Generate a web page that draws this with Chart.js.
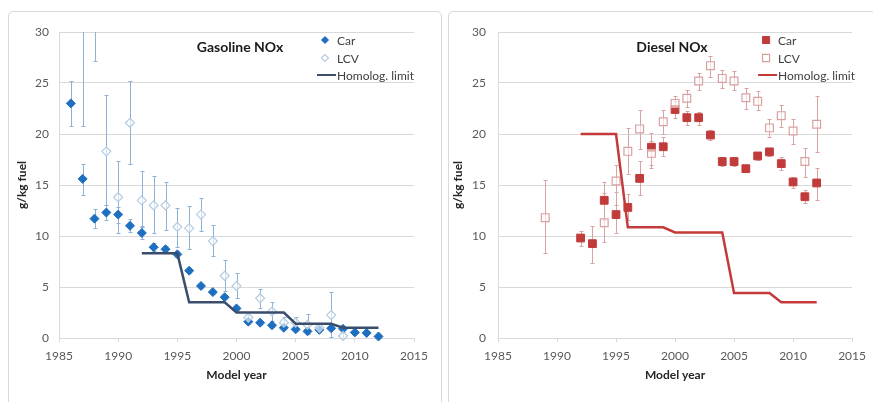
<!DOCTYPE html>
<html><head><meta charset="utf-8">
<script src="https://cdn.jsdelivr.net/npm/chart.js@4.4.1/dist/chart.umd.min.js"></script>
<style>
html,body{margin:0;padding:0;background:#fff;width:873px;height:402px;overflow:hidden;position:relative;}
.panel{position:absolute;border:1px solid #d9d9d9;border-radius:5px;box-sizing:border-box;}
#p1{left:8px;top:11px;width:434px;height:430px;}
#p2{left:448px;top:11px;width:460px;height:430px;}
canvas{position:absolute;top:0;}
#c1{left:0;}
#c2{left:440px;}
</style></head><body>
<div class="panel" id="p1"></div>
<div class="panel" id="p2"></div>
<canvas id="c1" width="440" height="402"></canvas>
<canvas id="c2" width="433" height="402"></canvas>
<script>
// ---------- Data ----------
const gasCarYears = [1986,1987,1988,1989,1990,1991,1992,1993,1994,1995,1996,1997,1998,1999,2000,2001,2002,2003,2004,2005,2006,2007,2008,2009,2010,2011,2012];
const gasCar      = [23.0,15.6,11.7,12.3,12.1,11.0,10.3,8.9,8.7,8.2,6.6,5.1,4.5,4.0,2.9,1.6,1.5,1.25,1.0,0.85,0.65,0.8,0.95,0.9,0.55,0.5,0.15];
const gasCarLow   = [20.8,14.0,10.8,11.6,11.3,10.4,9.7,8.5,8.3,7.9,6.4,4.9,4.3,3.8,2.7,1.4,1.3,1.1,0.85,0.7,0.5,0.65,0.8,0.75,0.4,0.4,0.05];
const gasCarHigh  = [25.2,17.1,12.6,13.0,12.8,11.7,11.0,9.3,9.0,8.5,6.9,5.3,4.7,4.2,3.1,1.9,1.7,1.4,1.2,1.0,0.8,0.95,1.1,1.05,0.7,0.65,0.25];

const gasLcvYears = [1987,1988,1989,1990,1991,1992,1993,1994,1995,1996,1997,1998,1999,2000,2001,2002,2003,2004,2005,2006,2007,2008,2009];
const gasLcv      = [32.0,36.0,18.3,13.8,21.1,13.5,13.0,13.0,10.9,10.75,12.1,9.5,6.1,5.1,2.0,3.9,2.6,1.5,1.5,1.3,1.0,2.25,0.2];
const gasLcvLow   = [20.8,27.2,13.0,10.3,17.1,10.9,10.3,10.6,8.9,8.7,10.5,8.0,4.6,3.9,1.6,2.9,1.7,0.9,0.9,0.4,0.6,0.1,0.0];
const gasLcvHigh  = [43.0,45.0,23.8,17.4,25.2,16.4,15.9,15.3,12.7,12.9,13.7,11.1,7.6,6.35,2.4,4.8,3.5,2.1,2.1,2.35,1.4,4.55,0.6];

const gasLimitYears = [1992,1993,1994,1995,1996,1997,1998,1999,2000,2001,2002,2003,2004,2005,2006,2007,2008,2009,2010,2011,2012];
const gasLimit      = [8.3,8.3,8.3,8.3,3.5,3.5,3.5,3.5,2.5,2.5,2.5,2.5,2.5,1.4,1.4,1.4,1.4,1.0,1.0,1.0,1.0];

const dieCarYears = [1992,1993,1994,1995,1996,1997,1998,1999,2000,2001,2002,2003,2004,2005,2006,2007,2008,2009,2010,2011,2012];
const dieCar      = [9.8,9.25,13.5,12.1,12.8,15.65,18.7,18.75,22.4,21.6,21.6,19.9,17.3,17.3,16.6,17.85,18.25,17.1,15.3,13.85,15.2];
const dieCarLow   = [9.0,7.4,11.6,10.3,11.6,14.0,17.0,17.8,21.6,20.9,20.9,19.4,16.9,16.9,16.3,17.5,17.8,16.5,14.7,13.2,13.55];
const dieCarHigh  = [10.45,11.0,15.3,14.3,14.1,17.35,20.1,19.7,23.2,22.3,22.2,20.4,17.7,17.7,16.9,18.2,18.6,17.7,15.8,14.5,16.7];

const dieLcvYears = [1989,1994,1995,1996,1997,1998,1999,2000,2001,2002,2003,2004,2005,2006,2007,2008,2009,2010,2011,2012];
const dieLcv      = [11.8,11.3,15.4,18.3,20.5,18.1,21.2,23.0,23.5,25.2,26.7,25.45,25.2,23.55,23.2,20.6,21.8,20.3,17.3,20.95];
const dieLcvLow   = [8.3,9.4,13.0,16.1,18.5,16.7,20.0,22.2,22.6,24.3,25.6,24.5,24.3,22.45,22.35,19.7,20.7,19.0,15.8,18.2];
const dieLcvHigh  = [15.5,14.2,17.0,20.6,22.35,19.3,22.35,23.7,24.3,26.0,27.6,26.3,26.2,24.55,24.2,21.5,22.85,21.5,18.65,23.75];

const dieLimitYears = [1992,1993,1994,1995,1996,1997,1998,1999,2000,2001,2002,2003,2004,2005,2006,2007,2008,2009,2010,2011,2012];
const dieLimit      = [20,20,20,20,10.85,10.85,10.85,10.85,10.35,10.35,10.35,10.35,10.35,4.4,4.4,4.4,4.4,3.5,3.5,3.5,3.5];

const xMin = 1985, xMax = 2015, xStep = 5;
const yMin = 0, yMax = 30, yStep = 5;
const seriesNames = ['Car', 'LCV', 'Homolog. limit'];
const chartTitles = ['Gasoline NOx', 'Diesel NOx'];
const xTitle = 'Model year';
const yTitle = 'g/kg fuel';

// ---------- helpers ----------
const FONT = 'Lato, "Liberation Sans", sans-serif';
const pts = (xs, ys) => xs.map((x, i) => ({x, y: ys[i]}));

const errorBars = {
  id: 'errorBars',
  beforeDatasetsDraw(chart) {
    const {ctx, chartArea: a, scales: {x, y}} = chart;
    ctx.save();
    ctx.beginPath();
    ctx.rect(a.left - 5, a.top, a.right - a.left + 10, a.bottom - a.top + 6);
    ctx.clip();
    chart.data.datasets.forEach(ds => {
      if (!ds.errLow) return;
      ctx.strokeStyle = ds.errColor;
      ctx.lineWidth = 1;
      ds.data.forEach((p, i) => {
        const px = Math.round(x.getPixelForValue(p.x)) + 0.5;
        const y1 = Math.round(y.getPixelForValue(ds.errLow[i])) + 0.5;
        const y2 = Math.round(y.getPixelForValue(ds.errHigh[i])) + 0.5;
        ctx.beginPath();
        ctx.moveTo(px, y1); ctx.lineTo(px, y2);
        ctx.moveTo(px - 2, y1); ctx.lineTo(px + 2, y1);
        ctx.moveTo(px - 2, y2); ctx.lineTo(px + 2, y2);
        ctx.stroke();
      });
    });
    ctx.restore();
  }
};

const annot = {
  id: 'annot',
  afterDraw(chart, args, o) {
    const {ctx, chartArea: a} = chart;
    const ds = chart.data.datasets;
    ctx.save();
    // title
    ctx.fillStyle = '#1a1a1a';
    ctx.font = 'bold 14px ' + FONT;
    ctx.textAlign = 'center';
    ctx.textBaseline = 'middle';
    ctx.fillText(o.title, a.left + o.titleDX, a.top + 15);
    // legend
    ctx.font = '12px ' + FONT;
    ctx.textAlign = 'left';
    const mx = a.right - o.legDX, tx = mx + 12;
    const rows = [a.top + 8, a.top + 26, a.top + 43];
    ds.forEach((d, i) => {
      const yy = rows[i];
      if (d.showLine) {
        ctx.strokeStyle = d.borderColor; ctx.lineWidth = 2;
        ctx.beginPath(); ctx.moveTo(mx - 8, yy); ctx.lineTo(tx - 1, yy); ctx.stroke();
      } else {
        ctx.fillStyle = d.legendFill;
        ctx.strokeStyle = d.pointBorderColor;
        ctx.lineWidth = d.pointBorderWidth;
        Chart.helpers.drawPoint(ctx, {pointStyle: d.pointStyle, radius: d.legendRadius,
          borderWidth: d.pointBorderWidth, rotation: 0}, mx, yy);
      }
      ctx.fillStyle = '#404040';
      ctx.fillText(d.label, tx, yy + 1);
    });
    ctx.restore();
  }
};

function makeChart(id, cfg) {
  const W = document.getElementById(id).width;
  return new Chart(document.getElementById(id), {
    type: 'scatter',
    data: {
      datasets: [
        {label: seriesNames[0], data: pts(cfg.carYears, cfg.car), errLow: cfg.carLow, errHigh: cfg.carHigh,
         errColor: cfg.errColor, pointStyle: cfg.style, pointRadius: cfg.carR, legendRadius: cfg.legCarR,
         pointBackgroundColor: cfg.carColor, pointBorderColor: cfg.carColor, pointBorderWidth: 1, legendFill: cfg.carColor,
         backgroundColor: cfg.carColor, borderColor: cfg.carColor, order: 3, clip: {left: 10, top: 0, right: 10, bottom: 10}},
        {label: seriesNames[1], data: pts(cfg.lcvYears, cfg.lcv), errLow: cfg.lcvLow, errHigh: cfg.lcvHigh,
         errColor: cfg.errColor, pointStyle: cfg.style, pointRadius: cfg.lcvR, legendRadius: cfg.legLcvR,
         pointBackgroundColor: 'rgba(255,255,255,0.6)', pointBorderColor: cfg.lcvColor, pointBorderWidth: 1.2, legendFill: '#ffffff',
         backgroundColor: '#fff', borderColor: cfg.lcvColor, order: 2, clip: {left: 10, top: 0, right: 10, bottom: 10}},
        {label: seriesNames[2], data: pts(cfg.limYears, cfg.lim), showLine: true, pointRadius: 0,
         borderColor: cfg.limColor, backgroundColor: cfg.limColor, borderWidth: 2.5, tension: 0, order: 1}
      ]
    },
    options: {
      responsive: false, animation: false, events: [],
      layout: {padding: {left: 0, top: 32, right: W - cfg.chartRight, bottom: 0}},
      plugins: {legend: {display: false}, title: {display: false}, tooltip: {enabled: false},
        annot: {title: cfg.title, titleDX: cfg.titleDX, legDX: cfg.legDX}},
      scales: {
        x: {type: 'linear', min: xMin, max: xMax,
            ticks: {stepSize: xStep, color: '#595959', font: {family: FONT, size: 12}, padding: 7,
                    maxRotation: 0, callback: v => String(v)},
            grid: {drawOnChartArea: false, drawTicks: true, tickLength: 4, color: '#d9d9d9'},
            border: {color: '#d9d9d9'},
            title: {display: true, text: xTitle, color: '#262626', font: {family: FONT, size: 12, weight: 'bold'},
                    padding: {top: 0, bottom: 20}},
            afterFit: s => { s.height = 64; }},
        y: {min: yMin, max: yMax,
            ticks: {stepSize: yStep, color: '#595959', font: {family: FONT, size: 12}, padding: cfg.yPad},
            grid: {drawTicks: false, color: '#d9d9d9', lineWidth: 1},
            border: {color: '#d9d9d9'},
            title: {display: true, text: yTitle, color: '#262626', font: {family: FONT, size: 12, weight: 'bold'},
                    padding: {top: cfg.yTitlePad, bottom: 0}},
            afterFit: s => { s.width = cfg.chartLeft; }}
      }
    },
    plugins: [errorBars, annot]
  });
}

makeChart('c1', {
  carYears: gasCarYears, car: gasCar, carLow: gasCarLow, carHigh: gasCarHigh,
  lcvYears: gasLcvYears, lcv: gasLcv, lcvLow: gasLcvLow, lcvHigh: gasLcvHigh,
  limYears: gasLimitYears, lim: gasLimit,
  style: 'rectRot', carR: 4.5, lcvR: 4.5, legCarR: 3.5, legLcvR: 3.5,
  carColor: '#1f6fc0', lcvColor: '#b4cbe0', errColor: '#8db2d4', limColor: '#3a4d6c',
  chartLeft: 59, chartRight: 414, yPad: 10, yTitlePad: 15,
  title: chartTitles[0], titleDX: 181, legDX: 89
});
makeChart('c2', {
  carYears: dieCarYears, car: dieCar, carLow: dieCarLow, carHigh: dieCarHigh,
  lcvYears: dieLcvYears, lcv: dieLcv, lcvLow: dieLcvLow, lcvHigh: dieLcvHigh,
  limYears: dieLimitYears, lim: dieLimit,
  style: 'rect', carR: 5.5, lcvR: 5.5, legCarR: 5, legLcvR: 5,
  carColor: '#c23b3b', lcvColor: '#d9a0a0', errColor: '#d7a3a3', limColor: '#c43a3a',
  chartLeft: 58, chartRight: 418, yPad: 12, yTitlePad: 11,
  title: chartTitles[1], titleDX: 174, legDX: 86
});
</script>
</body></html>
